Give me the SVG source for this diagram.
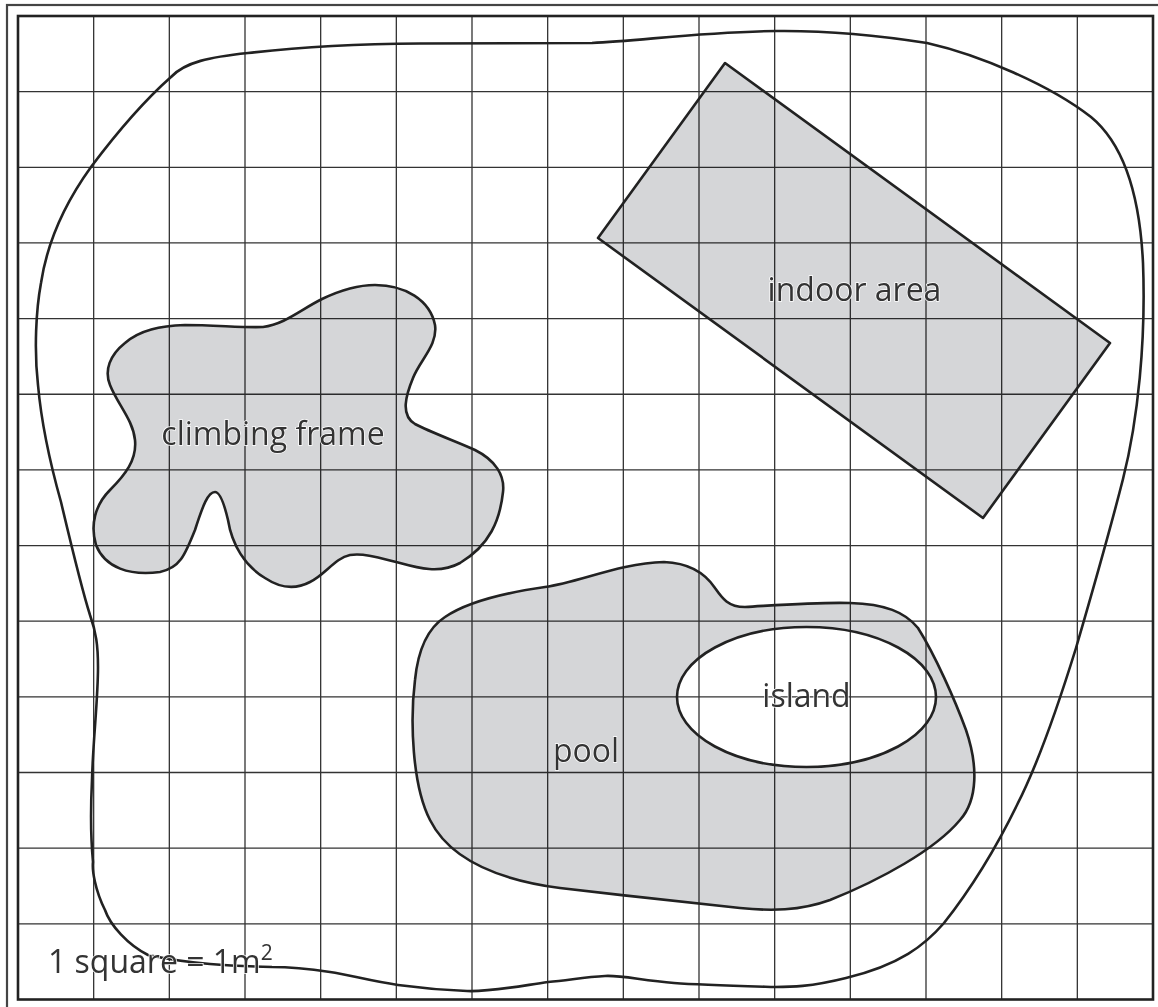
<svg xmlns="http://www.w3.org/2000/svg" width="1158" height="1007" viewBox="0 0 1158 1007">
<style>
.grid{stroke:#333;stroke-width:1.3;fill:none}
.shape{fill:#d5d6d8;stroke:none;mix-blend-mode:multiply}
.outline{fill:none;stroke:#222;stroke-width:2.6;stroke-linejoin:round}
.lbl{font-family:"Open Sans","Noto Sans",sans-serif;font-size:32px;fill:#333;stroke:#fff;stroke-width:1.5;paint-order:stroke}
</style>
<rect x="0" y="0" width="1158" height="1007" fill="#fff"/>
<rect x="7" y="5" width="1170" height="1020" fill="none" stroke="#444" stroke-width="2.2"/>
<g id="grid">
<path class="grid" d="M93.67,16V999.5M169.33,16V999.5M245,16V999.5M320.67,16V999.5M396.33,16V999.5M472,16V999.5M547.67,16V999.5M623.33,16V999.5M699,16V999.5M774.67,16V999.5M850.33,16V999.5M926,16V999.5M1001.67,16V999.5M1077.33,16V999.5
M18,91.65H1153M18,167.3H1153M18,242.95H1153M18,318.6H1153M18,394.25H1153M18,469.9H1153M18,545.55H1153M18,621.2H1153M18,696.85H1153M18,772.5H1153M18,848.15H1153M18,923.8H1153"/>
<rect x="18" y="16" width="1135" height="983.5" fill="none" stroke="#222" stroke-width="2.6"/>
</g>
<g id="boundary">
<path class="outline" d="M171,77 C185,62 210,57 248,53 C300,47 360,44 420,43.5 C500,43 560,43 592,43 C640,41 700,32 776,31 C820,30.5 870,34 927,43 C980,55 1050,85 1091,117 C1125,145 1140,200 1143,263 C1146,340 1138,420 1123,479 C1110,530 1090,600 1076,648 C1063,690 1040,760 1017,805 C995,850 970,890 944,923 C925,945 900,965 846,978 C810,987 790,987 775,987 C740,986 700,985 674,983 C640,980 620,975 605,976 C585,977 570,980 548,982 C520,986 490,992 467,991 C440,990 420,988 398,985 C370,981 350,975 330,972 C310,969 290,967 272,967 C230,966 190,964 148,955 C128,945 110,925 105,910 C95,890 92,870 93,862 C90,830 91,800 92,780 C93,740 98,700 98,667 C98,645 96,632 90,615 C82,590 70,540 61,502 C52,470 42,430 38,385 C34,350 36,310 41,283 C46,250 60,210 91,167 C115,135 145,100 171,77 Z"/>
</g>
<g id="indoor-area">
<polygon class="shape" points="725,63 1110,343 983,518 598,238"/>
<polygon class="outline" points="725,63 1110,343 983,518 598,238"/>
<text class="lbl" x="854.5" y="301" text-anchor="middle">indoor area</text>
</g>
<g id="climbing-frame">
<path class="shape" id="cf" d="M263,327 C285,324 300,310 322,299 C345,288 360,285 375,285 C405,285 430,300 435,325 C438,345 420,360 413,378 C406,395 400,415 415,424 C430,432 460,443 475,450 C495,460 505,475 503,492 C500,520 490,545 460,563 C440,574 418,568 400,563 C380,558 365,553 350,555 C335,558 325,575 310,582 C295,590 280,588 265,578 C245,566 232,545 228,520 C224,503 220,492 215,492 C208,492 203,505 195,530 C185,555 180,568 160,572 C130,576 105,568 96,545 C90,525 95,505 110,490 C125,475 137,460 135,440 C133,420 118,405 110,385 C104,370 110,355 125,343 C140,330 160,326 185,325 C215,325 245,328 263,327 Z"/>
<path class="outline" d="M263,327 C285,324 300,310 322,299 C345,288 360,285 375,285 C405,285 430,300 435,325 C438,345 420,360 413,378 C406,395 400,415 415,424 C430,432 460,443 475,450 C495,460 505,475 503,492 C500,520 490,545 460,563 C440,574 418,568 400,563 C380,558 365,553 350,555 C335,558 325,575 310,582 C295,590 280,588 265,578 C245,566 232,545 228,520 C224,503 220,492 215,492 C208,492 203,505 195,530 C185,555 180,568 160,572 C130,576 105,568 96,545 C90,525 95,505 110,490 C125,475 137,460 135,440 C133,420 118,405 110,385 C104,370 110,355 125,343 C140,330 160,326 185,325 C215,325 245,328 263,327 Z"/>
<text class="lbl" x="273" y="445" text-anchor="middle">climbing frame</text>
</g>
<g id="pool">
<path class="shape" fill-rule="evenodd" d="M664,562 C690,563 705,573 715,588 C722,598 728,607 745,607 C780,605 820,602 850,603 C885,604 905,612 918,628 C935,655 955,700 966,730 C978,765 978,800 960,820 C935,850 880,880 830,900 C800,911 770,911 740,908 C690,903 620,895 560,888 C500,880 450,860 430,820 C412,785 410,720 415,680 C418,650 428,628 445,617 C470,600 510,592 545,587 C580,582 620,563 664,562 Z M677,697 A129.5,70 0 1,0 936,697 A129.5,70 0 1,0 677,697 Z" style="fill-rule:evenodd"/>
<path class="outline" d="M664,562 C690,563 705,573 715,588 C722,598 728,607 745,607 C780,605 820,602 850,603 C885,604 905,612 918,628 C935,655 955,700 966,730 C978,765 978,800 960,820 C935,850 880,880 830,900 C800,911 770,911 740,908 C690,903 620,895 560,888 C500,880 450,860 430,820 C412,785 410,720 415,680 C418,650 428,628 445,617 C470,600 510,592 545,587 C580,582 620,563 664,562 Z"/>
<text class="lbl" x="586" y="762" text-anchor="middle">pool</text>
</g>
<g id="island">
<ellipse class="outline" cx="806.5" cy="697" rx="129.5" ry="70"/>
<text class="lbl" x="806.5" y="707" text-anchor="middle">island</text>
</g>
<g id="scale-note">
<text class="lbl" x="48" y="973">1 square = 1m<tspan font-size="21" dy="-13">2</tspan></text>
</g>
</svg>
